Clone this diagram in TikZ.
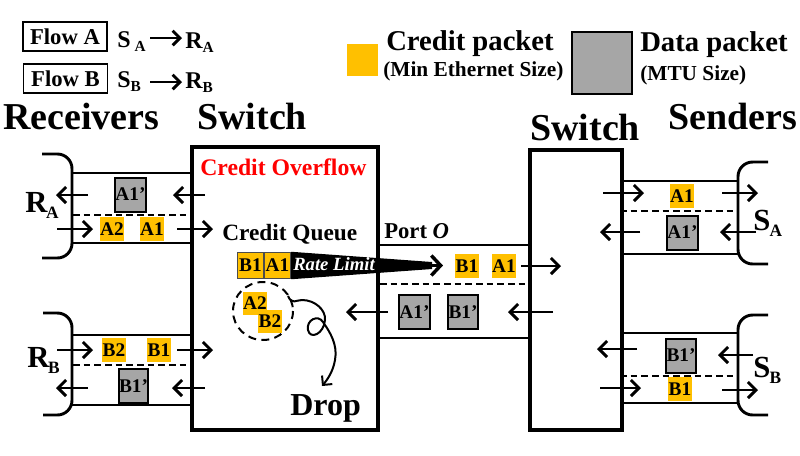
\documentclass[tikz,border=0pt]{standalone}
\usepackage{fontspec}
\setmainfont{Liberation Serif}
\usetikzlibrary{arrows.meta}
\definecolor{credit}{HTML}{FFC000}
\definecolor{datag}{HTML}{A6A6A6}
\newcommand{\fsz}[1]{\fontsize{#1}{#1}\selectfont}
\newcommand{\pkf}{\bfseries\fsz{14.5}}
\begin{document}
\begin{tikzpicture}[x=0.75pt,y=-0.75pt,
  txt/.style={inner sep=0, anchor=base west, font=\bfseries},
  link/.style={line width=1.5pt},
  dlink/.style={line width=1.3pt, dash pattern=on 5pt off 3pt},
  flowarr/.style={line width=2.2pt, -{Straight Barb[length=6pt,width=12pt]}},
  legarr/.style={line width=2.2pt, -{Straight Barb[length=5.5pt,width=11pt]}},
  cpk/.style={fill=credit, inner sep=0, minimum width=17.5pt, minimum height=17.5pt, font=\pkf},
  qpk/.style={fill=credit, draw=black!70, line width=0.6pt, inner sep=0, minimum width=20pt, minimum height=20pt, font=\pkf},
  dpk/.style={fill=datag, draw=black, line width=1.5pt, inner sep=0, minimum width=22pt, minimum height=25.5pt, font=\pkf},
  brk/.style={line width=2.2pt, rounded corners=11pt},
  swbox/.style={line width=2.3pt},
  flowbox/.style={draw, line width=1.2pt, inner sep=0, minimum width=63pt, minimum height=22pt, font=\bfseries\fsz{17}},
]
\useasboundingbox (0,0) rectangle (800,455);

% ---------- legend ----------
\node[flowbox] (fa) at (65,36.5) {Flow A};
\node[flowbox] (fb) at (65.5,78.5) {Flow B};
\node[txt, font=\bfseries\fsz{18}] (sa) at (117,47) {S\hspace{3pt}\raisebox{-3pt}{\fsz{11.5}A}};
\node[txt, font=\bfseries\fsz{18}] (ra) at (185,48) {R\raisebox{-3pt}{\fsz{11.5}A}};
\node[txt, font=\bfseries\fsz{18}] (sb) at (117,87) {S\raisebox{-3pt}{\fsz{11.5}B}};
\node[txt, font=\bfseries\fsz{18}] (rb) at (185,88) {R\raisebox{-3pt}{\fsz{11.5}B}};
\coordinate (la1) at (150,38); \coordinate (la2) at (182,38);
\coordinate (lb1) at (150,82); \coordinate (lb2) at (182,82);
\draw[legarr] (la1) -- (la2);
\draw[legarr] (lb1) -- (lb2);

\fill[credit] (347,44) rectangle (378,76);
\node[txt, font=\bfseries\fsz{21.5}] (cpt) at (386,50) {Credit packet};
\node[txt, font=\bfseries\fsz{16}] (cps) at (383,76) {(Min Ethernet Size)};
\draw[fill=datag, line width=2.2pt] (572,32) rectangle (632,94);
\node[txt, font=\bfseries\fsz{21.5}] (dpt) at (640,51) {Data packet};
\node[txt, font=\bfseries\fsz{16}] (dps) at (640,80) {(MTU Size)};

% ---------- headings ----------
\node[txt, font=\bfseries\fsz{28.5}] (hrec) at (3,129) {Receivers};
\node[txt, font=\bfseries\fsz{28.5}] (hsw1) at (197,129) {Switch};
\node[txt, font=\bfseries\fsz{28.5}] (hsw2) at (530,140) {Switch};
\node[txt, font=\bfseries\fsz{28.5}] (hsen) at (668,129) {Senders};

% ---------- switches ----------
\draw[swbox] (192,147) rectangle (378,430);
\draw[swbox] (530,150) rectangle (622,430);
\node[txt, text=red, font=\bfseries\fsz{17.8}] (co) at (200,175) {Credit Overflow};
\node[txt, font=\bfseries\fsz{17.5}] (cq) at (222,240) {Credit Queue};
\node[txt, font=\bfseries\fsz{17}] (po) at (384,238) {Port \textit{O}};
\node[txt, font=\bfseries\fsz{24}] (drop) at (290,415) {Drop};

% ---------- receiver R_A link ----------
\draw[brk] (42,154) -- (72,154) -- (72,258) -- (42,258);
\draw[link] (72,173) -- (192,173);
\draw[dlink] (73,215) -- (190,215);
\draw[link] (72,243) -- (192,243);
\node[txt, font=\bfseries\fsz{23}] (lra) at (25,212) {R\kern-1pt\raisebox{-4.5pt}{\fsz{13}A}};
\node[dpk] (p1) at (130.5,194.5) {A1’};
\node[cpk] (p2) at (112,229) {A2};
\node[cpk] (p3) at (152,229) {A1};
\draw[flowarr] (88,195) -- (56,195);
\draw[flowarr] (205,195) -- (173,195);
\draw[flowarr] (57,229) -- (93,229);
\draw[flowarr] (177,229) -- (213,229);

% ---------- receiver R_B link ----------
\draw[brk] (43,313) -- (72,313) -- (72,415) -- (43,415);
\draw[link] (72,335) -- (192,335);
\draw[dlink] (73,365) -- (190,365);
\draw[link] (72,405) -- (192,405);
\node[txt, font=\bfseries\fsz{23}] (lrb) at (27,367) {R\kern-1pt\raisebox{-4.5pt}{\fsz{13}B}};
\node[cpk] (p4) at (114,350) {B2};
\node[cpk] (p5) at (159,350) {B1};
\node[dpk] (p6) at (133.5,386) {B1’};
\draw[flowarr] (57,350) -- (93,350);
\draw[flowarr] (177,350) -- (213,350);
\draw[flowarr] (88,388) -- (56,388);
\draw[flowarr] (205,388) -- (172,388);

% ---------- credit queue & rate limiter ----------
\node[qpk] (q1) at (250.5,265.5) {B1};
\node[qpk] (q2) at (277.5,265.5) {A1};
\fill (q2.north east) -- (432,262) -- (432,269) -- (q2.south east) -- cycle;
\coordinate (rl1) at (428,265.5); \coordinate (rl2) at (443,265.5);
\draw[line width=2.6pt, -{Straight Barb[length=7pt,width=15pt]}] (rl1) -- (rl2);
\node[txt, text=white, font=\bfseries\itshape\fsz{14}] (rl) at (293,270) {Rate Limit};

% ---------- overflow / drop ----------
\draw[line width=1.5pt, dash pattern=on 6pt off 4pt] (263,311) ellipse [x radius=30, y radius=29];
\node[cpk] (p7) at (255,303.5) {A2};
\node[cpk] (p8) at (270,321.5) {B2};
\draw[line width=1.5pt, -{Straight Barb[length=5pt,width=10pt]}]
  (288,296) .. controls (292,305) and (296,300) .. (302,300)
  .. controls (315,300) and (326,310) .. (325,320)
  .. controls (324,334) and (310,340) .. (308,330)
  .. controls (306,320) and (318,314) .. (323,322)
  .. controls (330,332) and (338,345) .. (335,360)
  .. controls (333,372) and (327,380) .. (322,386);

% ---------- middle link (port O) ----------
\draw[link] (378,245) -- (530,245);
\draw[dlink] (380,284) -- (530,284);
\draw[link] (378,338) -- (530,338);
\node[cpk] (p9) at (467,266) {B1};
\node[cpk] (p10) at (504,266) {A1};
\node[dpk] (p11) at (414.5,312) {A1’};
\node[dpk] (p12) at (463,312) {B1’};
\draw[flowarr] (521,266) -- (561,266);
\draw[flowarr] (553,312) -- (508,312);
\draw[flowarr] (388,312) -- (346,312);

% ---------- sender S_A link ----------
\draw[brk] (768,162) -- (738,162) -- (738,264) -- (768,264);
\draw[link] (622,181) -- (738,181);
\draw[dlink] (620,211) -- (733,211);
\draw[link] (622,254) -- (738,254);
\node[txt, font=\bfseries\fsz{23}] (lsa) at (753,230) {S\kern-0.5pt\raisebox{-4.5pt}{\fsz{13}A}};
\node[cpk] (p13) at (682,196) {A1};
\node[dpk] (p14) at (682.5,232.5) {A1’};
\draw[flowarr] (603,193) -- (644,193);
\draw[flowarr] (722,193) -- (758,193);
\draw[flowarr] (640,232) -- (600,232);
\draw[flowarr] (756,232) -- (720,232);

% ---------- sender S_B link ----------
\draw[brk] (768,315) -- (738,315) -- (738,415) -- (768,415);
\draw[link] (622,333) -- (738,333);
\draw[dlink] (620,376) -- (735,376);
\draw[link] (622,403) -- (738,403);
\node[txt, font=\bfseries\fsz{23}] (lsb) at (753,377) {S\kern-0.5pt\raisebox{-4.5pt}{\fsz{13}B}};
\node[dpk] (p15) at (681,355.5) {B1’};
\node[cpk] (p16) at (680,389) {B1};
\draw[flowarr] (637,349) -- (597,349);
\draw[flowarr] (753,355) -- (718,355);
\draw[flowarr] (600,388) -- (641,388);
\draw[flowarr] (722,390) -- (758,390);
\end{tikzpicture}
\end{document}
